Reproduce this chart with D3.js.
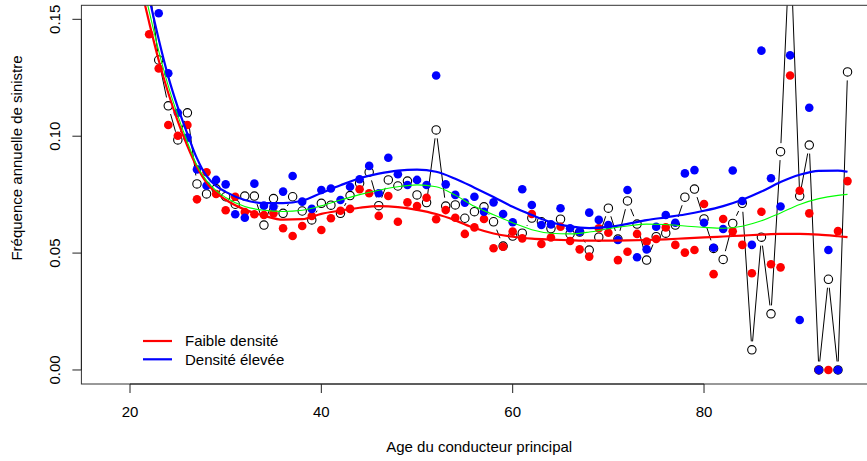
<!DOCTYPE html>
<html><head><meta charset="utf-8">
<script src="https://cdn.jsdelivr.net/npm/d3@7"></script>
<style>body{margin:0;background:#fff}svg{display:block}text{font-family:"Liberation Sans",Arial,sans-serif;fill:#000}</style>
</head><body><svg id="c" width="867" height="461"></svg>
<script>
// ---- data ----
const ages = d3.range(22, 96);
const faible = [0.1436,0.129,0.1048,0.1002,0.1048,0.073,0.0846,0.0753,0.0683,0.0741,0.0676,0.0666,0.0663,0.067,0.0606,0.0573,0.0616,0.0659,0.0599,0.0649,0.0681,0.0689,0.0773,0.0756,0.0659,0.0744,0.0634,0.0717,0.0701,0.0737,0.0645,0.0684,0.0651,0.0582,0.061,0.0646,0.0521,0.0527,0.0592,0.0563,0.0667,0.0539,0.0567,0.0613,0.0552,0.0516,0.0485,0.0606,0.0587,0.047,0.0506,0.0582,0.0549,0.056,0.061,0.0535,0.0502,0.0513,0.071,0.041,0.0646,0.0593,0.0535,0.0414,0.0677,0.0452,0.0439,0.126,0.0767,0.067,0,0,0.0594,0.0808];
const elevee = [0.172,0.1526,0.1269,0.110,0.0994,0.0858,0.0788,0.0813,0.0794,0.0666,0.0651,0.0797,0.0703,0.0698,0.0763,0.083,0.072,0.0689,0.077,0.0776,0.0727,0.0784,0.0816,0.0873,0.0756,0.0908,0.0837,0.0791,0.0813,0.0791,0.126,0.0794,0.0749,0.0716,0.0741,0.0677,0.0717,0.0667,0.0632,0.0773,0.0706,0.062,0.0623,0.0692,0.0606,0.0592,0.0673,0.0642,0.062,0.0556,0.077,0.0482,0.0516,0.0613,0.0663,0.063,0.0841,0.0855,0.063,0.0523,0.0603,0.0853,0.0723,0.0535,0.1366,0.082,0.0699,0.1346,0.0214,0.1122,0,0.0513,0,null];
const ensemble = [0.165,0.1326,0.113,0.0984,0.110,0.0796,0.0753,0.0775,0.0741,0.0709,0.0744,0.0744,0.062,0.0733,0.067,0.0741,0.068,0.0642,0.0713,0.0705,0.067,0.0746,0.0799,0.0846,0.0703,0.0813,0.0787,0.0808,0.0749,0.0716,0.1027,0.0701,0.0706,0.0649,0.0677,0.0698,0.0634,0.053,0.0573,0.0585,0.065,0.0634,0.0605,0.0645,0.0582,0.059,0.0513,0.0568,0.0692,0.056,0.0723,0.0624,0.047,0.057,0.0585,0.062,0.0739,0.0774,0.0646,0.052,0.0473,0.0627,0.0713,0.0086,0.0568,0.024,0.0934,0.185,0.0744,0.0962,0,0.0388,0,0.1275];
const fitAges = [21,22,23,24,25,26,27,28,29,30,32,34,36,38,40,42,44,46,48,50,52,54,56,58,60,62,64,66,68,70,72,74,76,78,80,82,84,86,88,90,92,94,95];
const fitFaible = [0.166,0.1487,0.1325,0.1185,0.1063,0.0958,0.0868,0.0801,0.0758,0.0728,0.0686,0.0660,0.0643,0.0645,0.0668,0.0682,0.0694,0.0701,0.0697,0.0685,0.0667,0.0640,0.0607,0.0584,0.0570,0.0562,0.0558,0.0555,0.0553,0.0553,0.0554,0.0556,0.0559,0.0563,0.0567,0.0571,0.0575,0.0579,0.0582,0.0582,0.0579,0.0572,0.0568];
const fitElevee = [0.180,0.1595,0.1415,0.1255,0.1123,0.1010,0.0905,0.0830,0.0787,0.0762,0.0727,0.0714,0.0714,0.0724,0.0757,0.0790,0.0820,0.0840,0.0853,0.0857,0.0848,0.0818,0.0780,0.0740,0.0698,0.0663,0.0632,0.0614,0.0607,0.0612,0.0625,0.0641,0.0653,0.0665,0.0681,0.0701,0.0728,0.0763,0.0804,0.0835,0.0852,0.0853,0.0848];
const fitEnsemble = [0.171,0.1535,0.1365,0.1215,0.1088,0.0975,0.0875,0.0810,0.0767,0.0738,0.0699,0.0683,0.0678,0.0683,0.0702,0.0727,0.0750,0.0769,0.0784,0.0792,0.0784,0.0748,0.0700,0.0664,0.0630,0.0600,0.0585,0.0582,0.0590,0.0604,0.0616,0.0624,0.0622,0.0616,0.0610,0.0606,0.0615,0.0638,0.0672,0.0708,0.0733,0.0747,0.0751];
const xTicks = [20,40,60,80];
const yTicks = [0,0.05,0.10,0.15];
const legendLabels = ["Faible densité","Densité élevée"];

// ---- chart ----
const svg = d3.select("#c");
const L=81.4, R=877, T=5.3, B=384;
const x = d3.scaleLinear().domain([14.92,98.08]).range([L,R]);
const y = d3.scaleLinear().domain([-0.006,0.156]).range([B,T]);
const fs = 15;

svg.append("clipPath").attr("id","clip").append("rect")
  .attr("x",L).attr("y",T).attr("width",R-L).attr("height",B-T);
const g = svg.append("g").attr("clip-path","url(#clip)");

// black type "b"
const gap = 8.5;
for (let i=0;i<ages.length-1;i++){
  const a=ensemble[i], b=ensemble[i+1];
  if(a==null||b==null) continue;
  const x1=x(ages[i]), y1=y(a), x2=x(ages[i+1]), y2=y(b);
  const d=Math.hypot(x2-x1,y2-y1);
  if(d<=2*gap) continue;
  const ux=(x2-x1)/d, uy=(y2-y1)/d;
  g.append("line").attr("x1",x1+ux*gap).attr("y1",y1+uy*gap)
   .attr("x2",x2-ux*gap).attr("y2",y2-uy*gap)
   .attr("stroke","#000").attr("stroke-width",1);
}
g.selectAll("circle.ens").data(ages.map((a,i)=>[a,ensemble[i]]).filter(d=>d[1]!=null))
 .join("circle").attr("cx",d=>x(d[0])).attr("cy",d=>y(d[1])).attr("r",4.2)
 .attr("fill","none").attr("stroke","#000").attr("stroke-width",1.1);

g.selectAll("circle.fa").data(ages.map((a,i)=>[a,faible[i]]).filter(d=>d[1]!=null))
 .join("circle").attr("cx",d=>x(d[0])).attr("cy",d=>y(d[1])).attr("r",4.3).attr("fill","#ff0000");
g.selectAll("circle.el").data(ages.map((a,i)=>[a,elevee[i]]).filter(d=>d[1]!=null))
 .join("circle").attr("cx",d=>x(d[0])).attr("cy",d=>y(d[1])).attr("r",4.3).attr("fill","#0000ff");

const line = d3.line().x(d=>x(d[0])).y(d=>y(d[1])).curve(d3.curveMonotoneX);
g.append("path").attr("d",line(fitAges.map((a,i)=>[a,fitFaible[i]]))).attr("fill","none").attr("stroke","#ff0000").attr("stroke-width",2.2);
g.append("path").attr("d",line(fitAges.map((a,i)=>[a,fitElevee[i]]))).attr("fill","none").attr("stroke","#0000ff").attr("stroke-width",2.2);
g.append("path").attr("d",line(fitAges.map((a,i)=>[a,fitEnsemble[i]]))).attr("fill","none").attr("stroke","#00ff00").attr("stroke-width",1.1);

// box
svg.append("rect").attr("x",L).attr("y",T).attr("width",R-L).attr("height",B-T)
  .attr("fill","none").attr("stroke","#333").attr("stroke-width",1);

// x axis
const xa = svg.append("g");
xa.append("line").attr("x1",x(xTicks[0])).attr("x2",x(xTicks[xTicks.length-1])).attr("y1",B).attr("y2",B).attr("stroke","#222");
xTicks.forEach(t=>{
  xa.append("line").attr("x1",x(t)).attr("x2",x(t)).attr("y1",B).attr("y2",B+9).attr("stroke","#222");
  xa.append("text").attr("x",x(t)).attr("y",412).attr("dy","0.35em").attr("text-anchor","middle").attr("font-size",fs).text(t);
});
// y axis
const ya = svg.append("g");
ya.append("line").attr("x1",L).attr("x2",L).attr("y1",y(yTicks[0])).attr("y2",y(yTicks[yTicks.length-1])).attr("stroke","#222");
yTicks.forEach(t=>{
  ya.append("line").attr("x1",L-9).attr("x2",L).attr("y1",y(t)).attr("y2",y(t)).attr("stroke","#222");
  ya.append("text").attr("transform",`translate(55,${y(t)}) rotate(-90)`).attr("dy","0.35em")
    .attr("text-anchor","middle").attr("font-size",fs).text(d3.format(".2f")(t));
});
svg.append("text").attr("transform",`translate(17,158) rotate(-90)`).attr("dy","0.35em")
  .attr("text-anchor","middle").attr("font-size",fs).text("Fréquence annuelle de sinistre");
svg.append("text").attr("x",(L+R)/2).attr("y",447).attr("dy","0.35em")
  .attr("text-anchor","middle").attr("font-size",fs).text("Age du conducteur principal");

// legend
const lg = svg.append("g");
[["#ff0000",341],["#0000ff",359.3]].forEach((c,i)=>{
  lg.append("line").attr("x1",143).attr("x2",172).attr("y1",c[1]).attr("y2",c[1]).attr("stroke",c[0]).attr("stroke-width",2.2);
  lg.append("text").attr("x",185).attr("y",c[1]).attr("dy","0.35em").attr("font-size",fs).text(legendLabels[i]);
});
</script></body></html>
